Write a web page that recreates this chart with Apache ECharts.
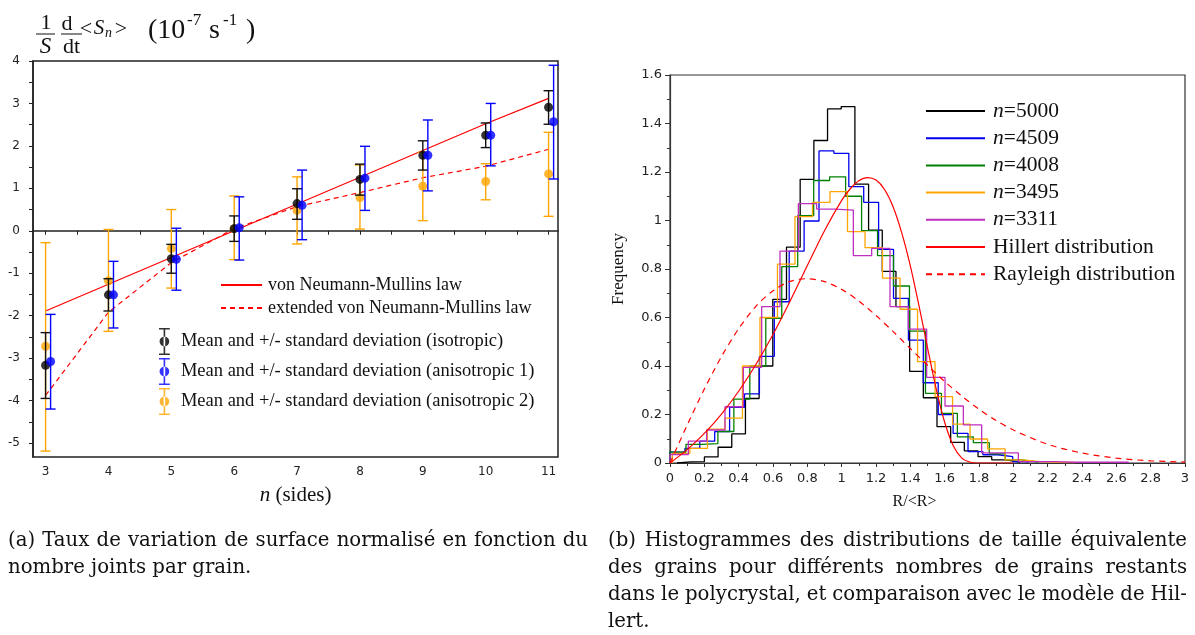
<!DOCTYPE html>
<html><head><meta charset="utf-8">
<script src="https://cdn.jsdelivr.net/npm/echarts@6/dist/echarts.min.js"></script>
<style>html,body{margin:0;padding:0;background:#fff}#c{width:1195px;height:635px}</style>
</head><body><div id="c"></div>
<script>
// ---------- (a) left chart data ----------
const sides   = [3, 4, 5, 6, 7, 8, 9, 10, 11];
const isoMean = [-3.17, -1.51, -0.66, 0.05, 0.64, 1.21, 1.78, 2.25, 2.91];
const isoLow  = [-3.95, -1.89, -1.00, -0.25, 0.27, 0.84, 1.43, 1.96, 2.51];
const isoHigh = [-2.40, -1.13, -0.32, 0.35, 0.99, 1.57, 2.12, 2.54, 3.30];
const an1Mean = [-3.08, -1.51, -0.67, 0.07, 0.60, 1.24, 1.78, 2.25, 2.57];
const an1Low  = [-4.20, -2.29, -1.40, -0.69, -0.21, 0.48, 0.94, 1.53, 1.22];
const an1High = [-1.97, -0.72, 0.06, 0.80, 1.43, 1.99, 2.61, 3.00, 3.90];
const an2Mean = [-2.72, -1.18, -0.42, 0.05, 0.48, 0.78, 1.05, 1.16, 1.34];
const an2Low  = [-5.19, -2.37, -1.35, -0.68, -0.31, 0.04, 0.24, 0.73, 0.34];
const an2High = [-0.28, 0.03, 0.50, 0.82, 1.27, 1.55, 1.85, 1.58, 2.32];
const vnmLaw  = [-1.89, -1.26, -0.63, 0.00, 0.63, 1.26, 1.89, 2.52, 3.12];
const extLaw  = [-3.88, -1.92, -0.75, 0.05, 0.57, 0.90, 1.25, 1.52, 1.92];
const leftYLabels = [-5, -4, -3, -2, -1, 0, 1, 2, 3, 4];
const leftYTicks  = [-5, -4.5, -4, -3.5, -3, -2.5, -2, -1.5, -1, -0.5, 0, 0.5, 1, 1.5, 2, 2.5, 3, 3.5, 4];
const leftXTicks  = [3, 3.5, 4, 4.5, 5, 5.5, 6, 6.5, 7, 7.5, 8, 8.5, 9, 9.5, 10, 10.5, 11];
const leftNames = ['von Neumann-Mullins law', 'extended von Neumann-Mullins law',
  'Mean and +/- standard deviation (isotropic)',
  'Mean and +/- standard deviation (anisotropic 1)',
  'Mean and +/- standard deviation (anisotropic 2)'];

// ---------- (b) right chart data ----------
const histNames = ['n=5000', 'n=4509', 'n=4008', 'n=3495', 'n=3311'];
const h5000Start = 0.041, h5000Width = 0.0797;
const h5000 = [0.005, 0.006, 0.025, 0.065, 0.12, 0.266, 0.40, 0.675, 0.89, 1.17, 1.33, 1.46, 1.47, 1.15, 0.96, 0.79, 0.645, 0.378, 0.269, 0.15, 0.085, 0.05, 0.026, 0.013, 0.005];
const h4509Start = 0, h4509Width = 0.0868;
const h4509 = [0.045, 0.06, 0.09, 0.13, 0.23, 0.285, 0.44, 0.665, 0.874, 0.998, 1.287, 1.277, 1.14, 1.075, 0.881, 0.679, 0.507, 0.331, 0.2, 0.122, 0.047, 0.034, 0.026, 0.006];
const h4008Start = 0, h4008Width = 0.093;
const h4008 = [0.045, 0.077, 0.08, 0.13, 0.263, 0.40, 0.597, 0.81, 1.02, 1.165, 1.18, 1.10, 0.958, 0.855, 0.73, 0.544, 0.287, 0.205, 0.108, 0.084, 0.038, 0.013, 0.005];
const h3495Start = 0.014, h3495Width = 0.102;
const h3495 = [0.04, 0.06, 0.14, 0.185, 0.40, 0.60, 0.82, 1.016, 1.075, 1.119, 0.954, 0.888, 0.762, 0.634, 0.418, 0.274, 0.16, 0.099, 0.058, 0.013, 0.006, 0.003, 0.002];
const h3311Start = 0, h3311Width = 0.1068;
const h3311 = [0.035, 0.09, 0.136, 0.232, 0.394, 0.645, 0.874, 1.07, 1.047, 1.043, 0.855, 0.885, 0.645, 0.552, 0.353, 0.235, 0.157, 0.042, 0.042, 0.006, 0.006, 0.003, 0.003, 0.003, 0.003];
const hillertX = [0, 0.1, 0.2, 0.3, 0.4, 0.5, 0.6, 0.7, 0.8, 0.9, 1.0, 1.05, 1.1, 1.15, 1.2, 1.25, 1.3, 1.35, 1.4, 1.45, 1.5, 1.55, 1.6, 1.65, 1.7, 1.75, 1.8, 1.9, 2.0];
const hillertY = [0, 0.055, 0.122, 0.202, 0.296, 0.406, 0.530, 0.668, 0.814, 0.958, 1.083, 1.131, 1.164, 1.177, 1.167, 1.128, 1.056, 0.949, 0.813, 0.650, 0.476, 0.308, 0.168, 0.071, 0.020, 0.003, 0.000, 0, 0];
const rayleighX = [0, 0.1, 0.2, 0.3, 0.4, 0.5, 0.6, 0.7, 0.8, 0.9, 1.0, 1.1, 1.2, 1.3, 1.4, 1.5, 1.6, 1.7, 1.8, 1.9, 2.0, 2.2, 2.4, 2.6, 2.8, 3.0];
const rayleighY = [0, 0.156, 0.305, 0.439, 0.554, 0.646, 0.710, 0.749, 0.760, 0.748, 0.716, 0.668, 0.608, 0.542, 0.472, 0.403, 0.336, 0.276, 0.222, 0.175, 0.136, 0.077, 0.041, 0.020, 0.009, 0.004];

const captionA = ['(a) Taux de variation de surface normalisé en fonction du', 'nombre joints par grain.'];
const captionB = ['(b) Histogrammes des distributions de taille équivalente', 'des grains pour différents nombres de grains restants', 'dans le polycrystal, et comparaison avec le modèle de Hil-', 'lert.'];

// ---------- builders ----------
const SERIF = '"Liberation Serif", "Times New Roman", serif';
const CAPSERIF = '"DejaVu Serif", serif';
const SANS = '"DejaVu Sans", sans-serif';
const RED = '#ff0000';

function errSeries(name, color, lows, highs, dx, z) {
  return {
    type: 'custom', name: name, xAxisIndex: 0, yAxisIndex: 0, z: z, silent: true,
    data: sides.map((n, i) => [n + dx, lows[i], highs[i]]),
    encode: { x: 0, y: [1, 2] },
    renderItem: function (params, api) {
      const x = api.value(0);
      const lo = api.coord([x, api.value(1)]);
      const hi = api.coord([x, api.value(2)]);
      const hw = 5;
      const st = { stroke: color, lineWidth: 1.4 };
      return { type: 'group', children: [
        { type: 'line', shape: { x1: lo[0], y1: lo[1], x2: hi[0], y2: hi[1] }, style: st },
        { type: 'line', shape: { x1: lo[0] - hw, y1: lo[1], x2: lo[0] + hw, y2: lo[1] }, style: st },
        { type: 'line', shape: { x1: hi[0] - hw, y1: hi[1], x2: hi[0] + hw, y2: hi[1] }, style: st }
      ]};
    }
  };
}
function dotSeries(name, color, means, dx, z) {
  return { type: 'scatter', name: name, xAxisIndex: 0, yAxisIndex: 0, z: z, symbolSize: 9,
    itemStyle: { color: color }, data: sides.map((n, i) => [n + dx, means[i]]) };
}
function histData(start, width, heights) {
  const pts = [[start, 0]];
  heights.forEach((h, i) => pts.push([start + i * width, h]));
  const end = start + heights.length * width;
  pts.push([end, heights[heights.length - 1]]);
  pts.push([end, 0]);
  return pts;
}
function histSeries(name, color, start, width, heights) {
  return { type: 'line', name: name, xAxisIndex: 1, yAxisIndex: 1, step: 'end', symbol: 'none',
    lineStyle: { color: color, width: 1.3 }, itemStyle: { color: color },
    data: histData(start, width, heights), z: 3 };
}

const ebIcon = 'path://M0,0H20V3H0Z M8.5,0H11.5V50H8.5Z M0,47H20V50H0Z M1,25A9,9 0 1 0 19,25A9,9 0 1 0 1,25Z';

// ---------- graphics: y title and captions ----------
const graphics = [];
function t(text, x, y, size, opts) {
  opts = opts || {};
  graphics.push({ type: 'text', x: x, y: y, silent: true, style: {
    text: text, font: (opts.italic ? 'italic ' : '') + size + 'px ' + SERIF, fill: '#111',
    align: opts.align || 'center', verticalAlign: 'middle' } });
}
t('1', 46, 23, 22); t('S', 45.5, 47, 23, { italic: true });
graphics.push({ type: 'line', silent: true, shape: { x1: 36, y1: 34, x2: 55, y2: 34 }, style: { stroke: '#111', lineWidth: 1 } });
t('d', 67, 24, 22); t('dt', 71.5, 47, 22);
graphics.push({ type: 'line', silent: true, shape: { x1: 61, y1: 34, x2: 82, y2: 34 }, style: { stroke: '#111', lineWidth: 1 } });
t('<', 86, 29, 22); t('S', 99, 28, 21, { italic: true }); t('n', 108.5, 33, 14, { italic: true }); t('>', 121, 29, 22);
t('(10', 148, 31, 28, { align: 'left' }); t('-7', 187, 21, 17, { align: 'left' });
t('s', 209, 31, 28, { align: 'left' }); t('-1', 223, 21, 17, { align: 'left' }); t(')', 246, 31, 28, { align: 'left' });

const mctx = document.createElement('canvas').getContext('2d');
mctx.font = '20px ' + CAPSERIF;
const capSize = Math.min(21, 20 * 572 / mctx.measureText(captionA[0]).width);
const capFont = capSize.toFixed(2) + 'px ' + CAPSERIF;
function captionLine(text, x0, width, y, justify) {
  mctx.font = capFont;
  const words = text.split(' ');
  const ws = words.map(w => mctx.measureText(w).width);
  const total = ws.reduce((a, b) => a + b, 0);
  const gap = justify ? (width - total) / (words.length - 1) : mctx.measureText(' ').width;
  let x = x0;
  words.forEach((w, i) => {
    graphics.push({ type: 'text', x: x, y: y, silent: true, style: { text: w, font: capFont, fill: '#111', align: 'left', verticalAlign: 'middle' } });
    x += ws[i] + gap;
  });
}
captionA.forEach((l, i) => captionLine(l, 8, 580, 541 + i * 26.5, i < captionA.length - 1));
captionB.forEach((l, i) => captionLine(l, 608, 579, 541 + i * 26.8, i < captionB.length - 1));

// ---------- option ----------
const axisLbl = { fontFamily: SANS, fontSize: 12, color: '#222' };
const hideSym = { color: 'transparent', borderColor: 'transparent', borderWidth: 0, opacity: 0 };
const option = {
  animation: false,
  backgroundColor: '#fff',
  graphic: graphics,
  grid: [
    { left: 33, right: 637, top: 61, bottom: 178, show: true, borderColor: '#222', borderWidth: 1.5, backgroundColor: 'transparent' },
    { left: 670, right: 10, top: 75, bottom: 172, show: true, borderColor: '#333', borderWidth: 1.2, backgroundColor: 'transparent' }
  ],
  xAxis: [
    { type: 'value', gridIndex: 0, min: 2.8, max: 11.15,
      name: '{i|n} (sides)', nameLocation: 'middle', nameGap: 28,
      nameTextStyle: { fontFamily: SERIF, fontSize: 21, color: '#111', rich: { i: { fontFamily: SERIF, fontSize: 21, fontStyle: 'italic', color: '#111' } } },
      axisLine: { lineStyle: { color: '#222', width: 1.5 } },
      axisTick: { show: true, length: 4, customValues: leftXTicks, lineStyle: { color: '#222' } },
      axisLabel: Object.assign({ customValues: sides, margin: 9 }, axisLbl),
      splitLine: { show: false } },
    { type: 'value', gridIndex: 1, min: 0, max: 3, interval: 0.2,
      name: 'R/<R>', nameLocation: 'middle', nameGap: 31,
      nameTextStyle: { fontFamily: SERIF, fontSize: 16, color: '#111', padding: [0, 26, 0, 0] },
      axisLine: { lineStyle: { color: '#333', width: 1.2 } },
      axisTick: { length: 4, lineStyle: { color: '#333' } },
      minorTick: { show: true, splitNumber: 2, length: 3, lineStyle: { color: '#333' } },
      axisLabel: Object.assign({ margin: 9 }, axisLbl, { fontSize: 13 }),
      splitLine: { show: false } }
  ],
  yAxis: [
    { type: 'value', gridIndex: 0, min: -5.33, max: 4,
      axisLine: { show: true, lineStyle: { color: '#222', width: 1.5 } },
      axisTick: { show: true, length: 4, customValues: leftYTicks, lineStyle: { color: '#222' } },
      axisLabel: Object.assign({ customValues: leftYLabels, margin: 13 }, axisLbl),
      splitLine: { show: false } },
    { type: 'value', gridIndex: 1, min: 0, max: 1.6, interval: 0.2,
      name: 'Frequency', nameLocation: 'middle', nameGap: 43, nameRotate: 90,
      nameTextStyle: { fontFamily: SERIF, fontSize: 17, color: '#111' },
      axisLine: { show: true, lineStyle: { color: '#333', width: 1.2 } },
      axisTick: { show: true, length: 5, lineStyle: { color: '#333' } },
      minorTick: { show: true, splitNumber: 2, length: 3, lineStyle: { color: '#333' } },
      axisLabel: Object.assign({ margin: 8 }, axisLbl, { fontSize: 13 }),
      splitLine: { show: false } }
  ],
  legend: [
    { left: 215, top: 271, orient: 'vertical', itemWidth: 41, itemHeight: 14, itemGap: 5,
      itemStyle: hideSym,
      data: [leftNames[0], leftNames[1]],
      textStyle: { fontFamily: SERIF, fontSize: 18, lineHeight: 18, color: '#111', padding: [0, 0, 0, 1] } },
    { left: 154, top: 323, orient: 'vertical', itemWidth: 11, itemHeight: 27, itemGap: 3,
      data: [{ name: leftNames[2], icon: ebIcon }, { name: leftNames[3], icon: ebIcon }, { name: leftNames[4], icon: ebIcon }],
      textStyle: { fontFamily: SERIF, fontSize: 18.5, lineHeight: 18, color: '#111', padding: [0, 0, 0, 6] } },
    { left: 920, top: 95, orient: 'vertical', itemWidth: 59, itemHeight: 14, itemGap: 5.2,
      itemStyle: hideSym,
      data: histNames.concat(['Hillert distribution', 'Rayleigh distribution']),
      formatter: function (name) { return name.indexOf('n=') === 0 ? '{i|n}{r|' + name.slice(1) + '}' : '{r|' + name + '}'; },
      textStyle: { fontFamily: SERIF, fontSize: 21.5, lineHeight: 22, color: '#111', padding: [0, 0, 0, 3],
        rich: { i: { fontFamily: SERIF, fontSize: 21.5, lineHeight: 22, fontStyle: 'italic', color: '#111' }, r: { fontFamily: SERIF, fontSize: 21.5, lineHeight: 22, color: '#111' } } } }
  ],
  series: [
    { type: 'line', name: leftNames[0], xAxisIndex: 0, yAxisIndex: 0, symbol: 'none', z: 2,
      lineStyle: { color: RED, width: 1.2 }, itemStyle: { color: RED },
      data: sides.map((n, i) => [n, vnmLaw[i]]) },
    { type: 'line', name: leftNames[1], xAxisIndex: 0, yAxisIndex: 0, symbol: 'none', z: 2,
      lineStyle: { color: RED, width: 1.2, type: [5, 4] }, itemStyle: { color: RED },
      data: sides.map((n, i) => [n, extLaw[i]]) },
    dotSeries(leftNames[2], '#000000', isoMean, 0, 6),
    dotSeries(leftNames[3], '#0000ff', an1Mean, 0.08, 8),
    dotSeries(leftNames[4], '#ffa500', an2Mean, 0, 4),
    errSeries(leftNames[4], '#ffa500', an2Low, an2High, 0, 3),
    errSeries(leftNames[2], '#111111', isoLow, isoHigh, 0, 5),
    errSeries(leftNames[3], '#0000ff', an1Low, an1High, 0.08, 7),
    histSeries(histNames[0], '#000000', h5000Start, h5000Width, h5000),
    histSeries(histNames[1], '#0000ee', h4509Start, h4509Width, h4509),
    histSeries(histNames[2], '#008000', h4008Start, h4008Width, h4008),
    histSeries(histNames[3], '#ffa500', h3495Start, h3495Width, h3495),
    histSeries(histNames[4], '#c030c0', h3311Start, h3311Width, h3311),
    { type: 'line', name: 'Hillert distribution', xAxisIndex: 1, yAxisIndex: 1, symbol: 'none', smooth: 0.3, z: 4,
      lineStyle: { color: RED, width: 1.2 }, itemStyle: { color: RED },
      data: hillertX.map((x, i) => [x, hillertY[i]]) },
    { type: 'line', name: 'Rayleigh distribution', xAxisIndex: 1, yAxisIndex: 1, symbol: 'none', smooth: 0.3, z: 4,
      lineStyle: { color: RED, width: 1.2, type: [6, 5] }, itemStyle: { color: RED },
      data: rayleighX.map((x, i) => [x, rayleighY[i]]) }
  ]
};
const chart = echarts.init(document.getElementById('c'), null, { renderer: 'canvas' });
chart.setOption(option);
</script>
</body></html>
